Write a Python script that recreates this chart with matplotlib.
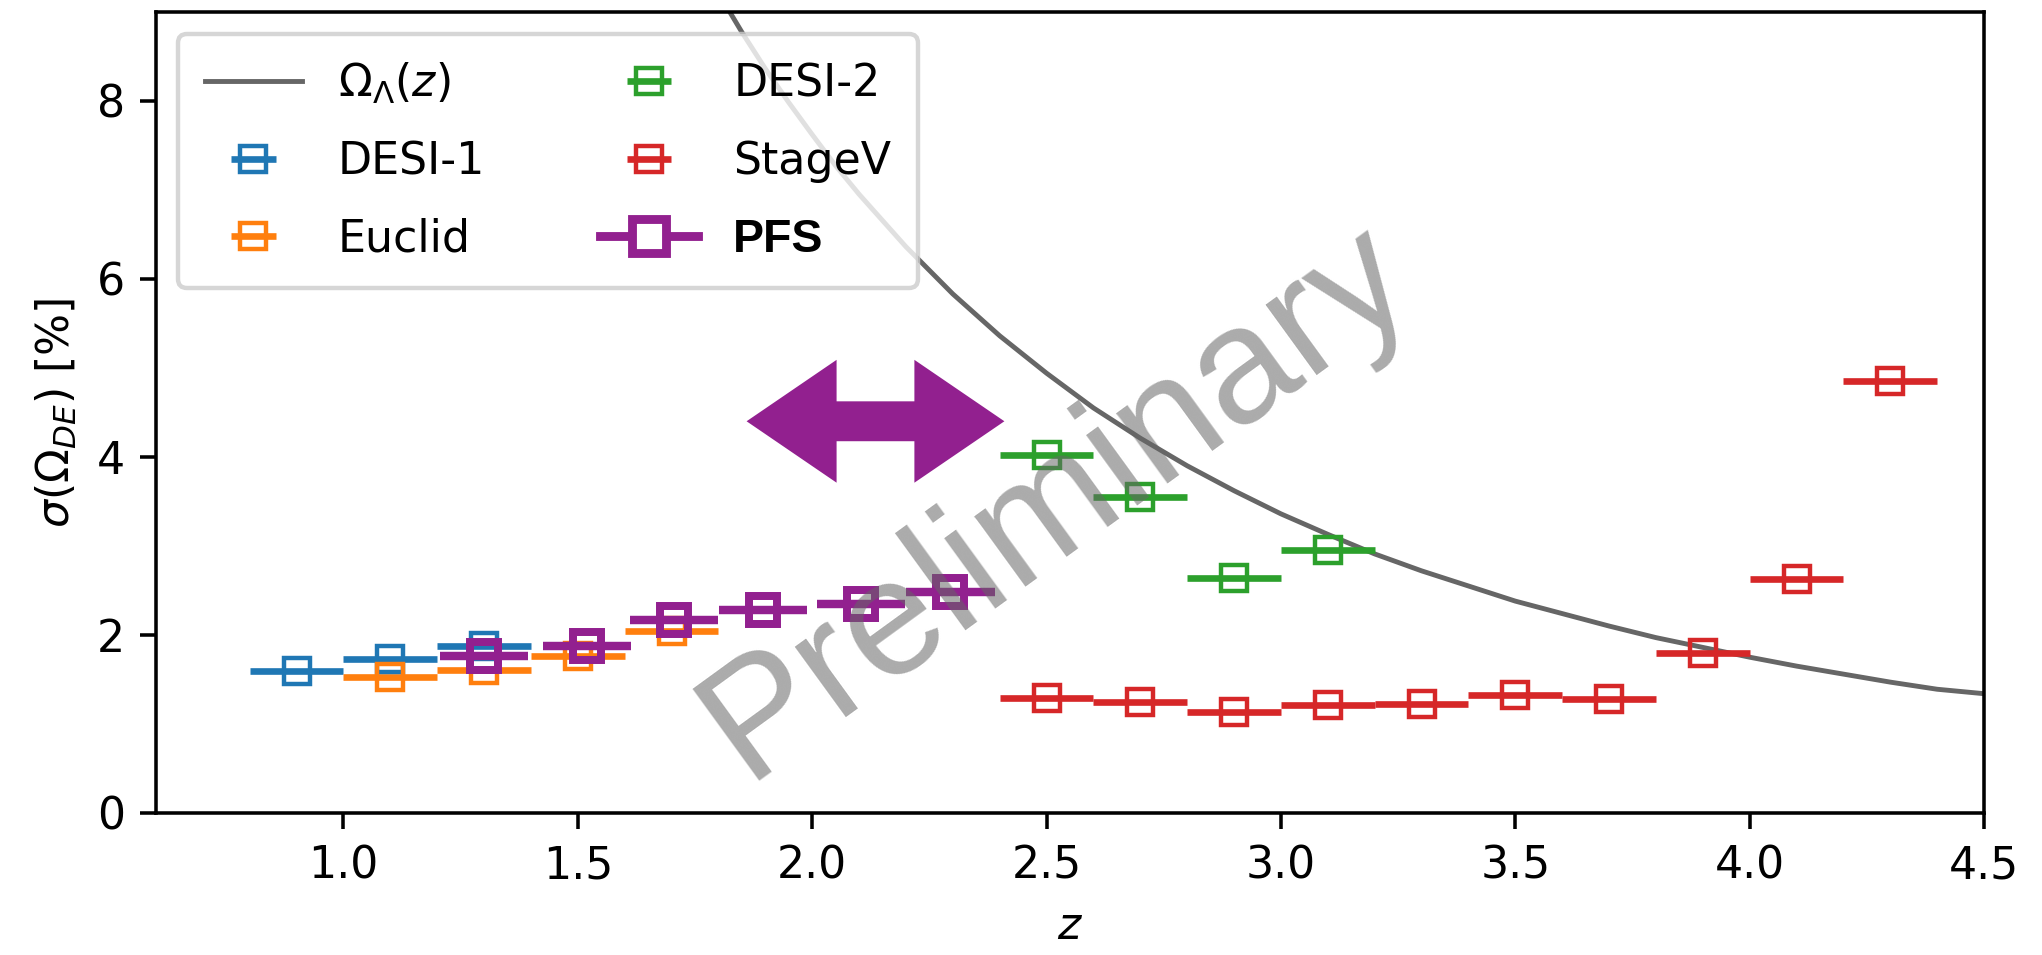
import matplotlib
matplotlib.use("Agg")
import matplotlib.pyplot as plt
from matplotlib.lines import Line2D
from matplotlib.patches import Polygon

# ---------------- data ----------------
curve_z = [1.80, 1.85, 1.90, 1.95, 2.00, 2.05, 2.10, 2.20, 2.30, 2.40, 2.50, 2.60,
           2.70, 2.80, 2.90, 3.00, 3.10, 3.20, 3.30, 3.40, 3.50, 3.60, 3.70, 3.80,
           3.90, 4.00, 4.10, 4.20, 4.30, 4.40, 4.50]
curve_y = [9.21, 8.77, 8.36, 7.98, 7.62, 7.27, 6.95, 6.36, 5.83, 5.36, 4.94, 4.55,
           4.21, 3.90, 3.62, 3.36, 3.13, 2.91, 2.72, 2.55, 2.38, 2.24, 2.10, 1.97,
           1.86, 1.75, 1.65, 1.56, 1.47, 1.39, 1.34]

desi1_z = [0.9, 1.1, 1.3]
desi1_s = [1.60, 1.73, 1.88]

euclid_z = [1.1, 1.3, 1.5, 1.7]
euclid_s = [1.53, 1.61, 1.76, 2.04]

desi2_z = [2.5, 2.7, 2.9, 3.1]
desi2_s = [4.02, 3.55, 2.64, 2.95]

stagev_z = [2.5, 2.7, 2.9, 3.1, 3.3, 3.5, 3.7, 3.9, 4.1, 4.3]
stagev_s = [1.29, 1.25, 1.13, 1.21, 1.22, 1.33, 1.28, 1.80, 2.63, 4.85]

pfs_z = [1.30, 1.52, 1.705, 1.895, 2.105, 2.295]
pfs_s = [1.76, 1.88, 2.17, 2.28, 2.35, 2.48]

bin_halfwidth = 0.1
pfs_halfwidth = 0.094

xticks = [1.0, 1.5, 2.0, 2.5, 3.0, 3.5, 4.0, 4.5]
yticks = [0, 2, 4, 6, 8]

# arrow annotation (PFS range)
arrow_z0, arrow_z1, arrow_yc = 1.86, 2.41, 4.40
arrow_head_half, arrow_shaft_half, arrow_head_len = 0.69, 0.224, 0.192

PURPLE = "#92208f"

# ---------------- figure ----------------
DPI = 319
fig = plt.figure(figsize=(2042 / DPI, 955 / DPI), dpi=DPI)
ax = fig.add_axes([0.0764, 0.1487, 0.9716 - 0.0764, 0.9877 - 0.1487])

curve, = ax.plot(curve_z, curve_y, color="k", alpha=0.6, lw=1.1, zorder=1)

kw = dict(fmt="s", mfc="none", ms=6, mew=1.0, elinewidth=1.5, capsize=0)
h1 = ax.errorbar(desi1_z, desi1_s, xerr=bin_halfwidth, color="C0", **kw)
h2 = ax.errorbar(euclid_z, euclid_s, xerr=bin_halfwidth, color="C1", **kw)
h3 = ax.errorbar(desi2_z, desi2_s, xerr=bin_halfwidth, color="C2", **kw)
h4 = ax.errorbar(stagev_z, stagev_s, xerr=bin_halfwidth, color="C3", **kw)
ax.errorbar(pfs_z, pfs_s, xerr=pfs_halfwidth, color=PURPLE, fmt="s", mfc="none",
            ms=6.5, mew=1.8, elinewidth=1.9, capsize=0, zorder=4)

# double-headed arrow
zs, ze, yc = arrow_z0, arrow_z1, arrow_yc
verts = [
    (zs, yc),
    (zs + arrow_head_len, yc + arrow_head_half),
    (zs + arrow_head_len, yc + arrow_shaft_half),
    (ze - arrow_head_len, yc + arrow_shaft_half),
    (ze - arrow_head_len, yc + arrow_head_half),
    (ze, yc),
    (ze - arrow_head_len, yc - arrow_head_half),
    (ze - arrow_head_len, yc - arrow_shaft_half),
    (zs + arrow_head_len, yc - arrow_shaft_half),
    (zs + arrow_head_len, yc - arrow_head_half),
]
ax.add_patch(Polygon(verts, closed=True, facecolor=PURPLE, edgecolor="none", zorder=3))

ax.set_xlim(0.6, 4.5)
ax.set_ylim(0, 9)
ax.set_xticks(xticks)
ax.set_yticks(yticks)
ax.set_xlabel(r"$z$")
ax.set_ylabel(r"$\sigma(\Omega_{DE})$ [%]")

pfs_proxy = Line2D([], [], color=PURPLE, lw=2.0, marker="s", ms=7.5, mfc="white", mew=2.0)
leg = ax.legend([curve, h1, h2, h3, h4, pfs_proxy],
                [r"$\Omega_\Lambda(z)$", "DESI-1", "Euclid", "DESI-2", "StageV", "PFS"],
                ncol=2, loc="upper left", handlelength=2.2, columnspacing=2.6,
                labelspacing=0.78, borderpad=0.6)
for t in leg.get_texts():
    if t.get_text() == "PFS":
        t.set_fontfamily(["Liberation Sans", "DejaVu Sans"])
        t.set_fontweight("bold")
        t.set_fontsize(10.5)

ax.text(2.52, 3.50, "Preliminary", fontsize=37.5, family=["Liberation Sans", "DejaVu Sans"],
        color="0.4", alpha=0.55, rotation=36, rotation_mode="anchor",
        ha="center", va="center", zorder=10)

fig.savefig("out.png", dpi=DPI)
